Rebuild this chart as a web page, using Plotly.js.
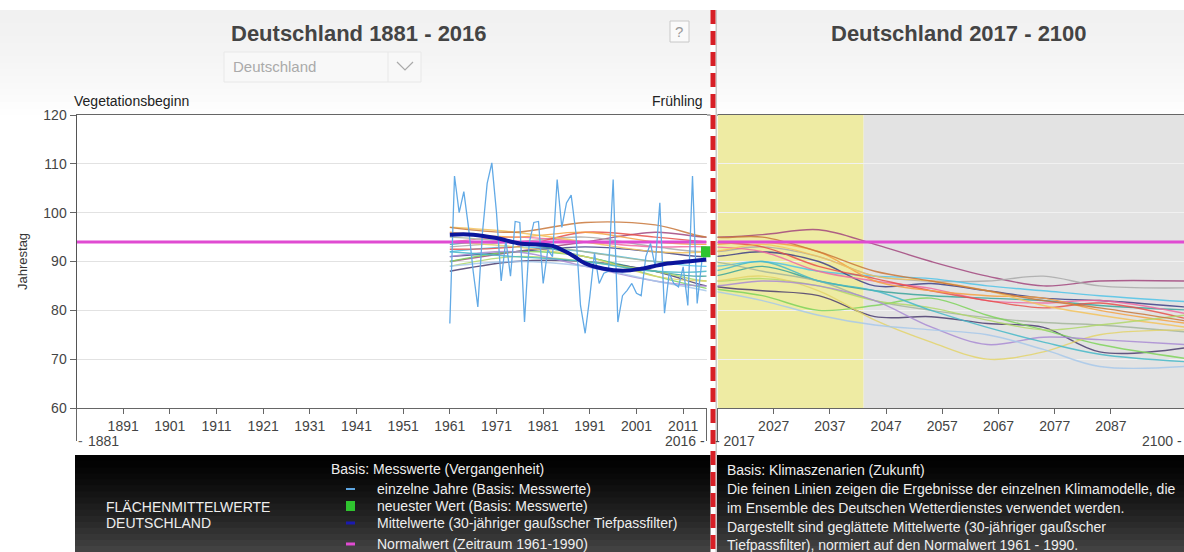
<!DOCTYPE html>
<html>
<head>
<meta charset="utf-8">
<script src="https://cdn.plot.ly/plotly-3.0.1.min.js"></script>
<style>
html,body{margin:0;padding:0;background:#fff;}
#chart{width:1184px;height:552px;}
</style>
</head>
<body>
<div id="chart"></div>
<script>
// ---------------- DATA ----------------
const obsYears = [1961,1962,1963,1964,1965,1966,1967,1968,1969,1970,1971,1972,1973,1974,1975,1976,1977,1978,1979,1980,
  1981,1982,1983,1984,1985,1986,1987,1988,1989,1990,1991,1992,1993,1994,1995,1996,1997,1998,1999,2000,
  2001,2002,2003,2004,2005,2006,2007,2008,2009,2010,2011,2012,2013,2014,2015,2016];
const obsValues = [77.3,107.5,100,104.3,97,88,80.7,96,106,110.2,100,86,94.4,87,98.2,98,77.6,93.7,98,98.2,
  85.5,92.4,91,106.8,97,102,103.6,96,81,75.3,82.8,91.7,85.5,87.6,88,106.8,77.6,83,84.1,85.5,
  83.5,83,91,93.7,89,102,79.4,87.6,85.5,84.8,88.9,81,107.5,81.4,90,92];

const meanYears  = [1961,1966,1971,1976,1980,1983,1987,1990,1994,1998,2002,2007,2012,2016];
const meanValues = [95.5,95.5,94.8,93.7,93.5,93.2,91.4,89.6,88.5,88.1,88.5,89.5,90.0,90.4];

const newestYear = [2016];
const newestValue = [92];

const normalValue = 94;

const modelYears = [1961,1975,1990,2005,2016,2025,2035,2045,2055,2065,2075,2085,2100];
const modelColors = ['#a2467e','#a9a9a9','#4fc3e8','#3d3f86','#3aa39a','#f06aa0','#e8504a','#f5a142',
  '#f3c35c','#a3b59b','#4a3c6e','#7ed35a','#b0d86a','#e3d46a','#a98bd4','#45b8c8','#a7c8ea','#c9773a'];
const modelValues = [
  [90,92,94,96,95,95.5,96.5,93.5,90,87,85,86,86],
  [93,94,95,93,92,93,91,87,86,86,87,85,84.6],
  [92,93,92,90,89,90,88,87,86.5,85,84,83,81.8],
  [91,92,93,92,91,92,90,85,85.5,84,82.5,82,80.7],
  [93.5,94,91,88,87,89,86,84,83,82.5,82,81,80.1],
  [94,95,94,93,93,92,88,86,84.5,82,81.5,82,79.4],
  [92.5,93,96,95,94,93,89,86.5,84,82,80.5,81.5,78.4],
  [96,95,96,94,93.5,94,92,86,84,83,82.5,80,77.4],
  [97,96,94,92,92,93.5,91,87,86,84,81,79,76.6],
  [95,94,92,90,90,88,86,82,80,78.5,77.5,77,75.6],
  [88,90,90,88,85,84,83,78.7,78.7,77.3,76.5,71.5,72.3],
  [90,92,91,87,84.5,83,80,81,82.5,79,76,73,70.2],
  [89,91,90,88,86,86.5,85,82,80.5,78,76,77,79],
  [94,93,91,87,86,87,84,78,73.5,70,71.5,75,76],
  [91,92,89,86,85,86,85,82,76.6,73,74.5,74,73],
  [92,91,90,88,88,90,86,84,80,76.5,73.5,71,69.5],
  [89,90,89,86,84,82,79,77,76,75,72,68.5,68.5],
  [97,96,98,97.5,95,95,92,88,86,84,82,80.5,77.9]
];

const leftTicks  = [1891,1901,1911,1921,1931,1941,1951,1961,1971,1981,1991,2001,2011];
const rightTicks = [2027,2037,2047,2057,2067,2077,2087];
const leftRange  = [1881,2016];
const rightRange = [2017,2100];
const nearFuture = [2017,2043];   // yellow band
const farFuture  = [2043,2100];   // gray band

// ---------------- HELPERS ----------------
const W = 1184, H = 552;
const PX = x => x / W;
const PY = y => 1 - y / H;
const plotTop = 115, plotBot = 408;
const font = '"Liberation Sans",Arial,sans-serif';

const traces = [];
modelValues.forEach((vals, i) => {
  ['x','x2'].forEach(xa => {
    traces.push({
      x: modelYears, y: vals, xaxis: xa, yaxis: xa === 'x' ? 'y' : 'y2',
      type: 'scatter', mode: 'lines',
      line: {color: modelColors[i], width: 1.4, shape: 'spline', smoothing: 1},
      opacity: 0.85, hoverinfo: 'skip', showlegend: false
    });
  });
});
traces.push({x: leftRange, y: [normalValue, normalValue], xaxis: 'x', yaxis: 'y', mode: 'lines',
  line: {color: '#e04bd2', width: 3}, showlegend: false});
traces.push({x: rightRange, y: [normalValue, normalValue], xaxis: 'x2', yaxis: 'y2', mode: 'lines',
  line: {color: '#e04bd2', width: 3}, showlegend: false});
traces.push({x: obsYears, y: obsValues, xaxis: 'x', yaxis: 'y', mode: 'lines',
  line: {color: '#62aae6', width: 1.3}, showlegend: false});
traces.push({x: meanYears, y: meanValues, xaxis: 'x', yaxis: 'y', mode: 'lines',
  line: {color: '#0b159c', width: 4, shape: 'spline'}, showlegend: false});
traces.push({x: newestYear, y: newestValue, xaxis: 'x', yaxis: 'y', mode: 'markers', cliponaxis: false,
  marker: {symbol: 'square', size: 11, color: '#2fc42f'}, showlegend: false});

const shapes = [];
// header background: smooth gradient via overlapping rects
const hTop = 10, hBot = 115, hN = 16;
for (let i = 0; i < hN; i++) {
  const y0 = hTop + (hBot - hTop) * i / hN;
  const c = Math.round(241 + 13 * Math.pow(i / (hN - 1), 1.5));
  shapes.push({type:'rect', xref:'paper', yref:'paper', x0:0, x1:1, y0:PY(hBot), y1:PY(y0),
    fillcolor:`rgb(${c},${c},${c})`, line:{width:0}, layer:'below'});
}
// future period bands
shapes.push({type:'rect', xref:'x2', yref:'y2 domain', x0:nearFuture[0], x1:nearFuture[1], y0:0, y1:1,
  fillcolor:'#eeeba3', line:{width:0}, layer:'below'});
shapes.push({type:'rect', xref:'x2', yref:'y2 domain', x0:farFuture[0], x1:farFuture[1], y0:0, y1:1,
  fillcolor:'#e3e3e3', line:{width:0}, layer:'below'});
// bottom black panel (gradient, overlapping rects so no seams)
const panelTop = 455, nStr = 16;
for (let i = 0; i < nStr; i++) {
  const y0 = panelTop + (H - panelTop) * i / nStr;
  const c = Math.round(2 + 64 * Math.pow(i / (nStr - 1), 1.4));
  shapes.push({type:'rect', xref:'paper', yref:'paper', x0:PX(75), x1:1, y0:0, y1:PY(y0),
    fillcolor:`rgb(${c},${c},${c})`, line:{width:0}, layer:'above'});
}
// top border across the gap
shapes.push({type:'line', xref:'paper', yref:'paper', x0:PX(707), x1:PX(718), y0:PY(plotTop), y1:PY(plotTop),
  line:{color:'#666', width:1}});
// bottom L-ticks for first/last years
[76.5, 706.5, 717.5].forEach(x => {
  shapes.push({type:'line', xref:'paper', yref:'paper', x0:PX(x), x1:PX(x), y0:PY(plotBot), y1:PY(441),
    line:{color:'#666', width:1}});
});
// divider
shapes.push({type:'line', xref:'paper', yref:'paper', x0:PX(716), x1:PX(716), y0:PY(10), y1:0,
  line:{color:'#c9c9c9', width:2}, layer:'above'});
shapes.push({type:'line', xref:'paper', yref:'paper', x0:PX(713), x1:PX(713), y0:PY(10), y1:0,
  line:{color:'#ffffff', width:5}, layer:'above'});
shapes.push({type:'line', xref:'paper', yref:'paper', x0:PX(713), x1:PX(713), y0:PY(10), y1:0,
  line:{color:'#d71f26', width:5, dash:'14px,7px'}, layer:'above'});
// "?" box
shapes.push({type:'rect', xref:'paper', yref:'paper', x0:PX(670), x1:PX(689), y0:PY(42), y1:PY(21),
  fillcolor:'#fafafa', line:{color:'#c8c8c8', width:1}});
// dropdown
shapes.push({type:'rect', xref:'paper', yref:'paper', x0:PX(224), x1:PX(421), y0:PY(82), y1:PY(52),
  fillcolor:'#f8f8f8', line:{color:'#e8e8e8', width:1}});
shapes.push({type:'line', xref:'paper', yref:'paper', x0:PX(388), x1:PX(388), y0:PY(82), y1:PY(52),
  line:{color:'#e8e8e8', width:1}});
shapes.push({type:'path', xref:'paper', yref:'paper',
  path:`M ${PX(397)} ${PY(62)} L ${PX(405)} ${PY(70)} L ${PX(413)} ${PY(62)}`,
  line:{color:'#aaaaaa', width:1.2}});
// legend symbols
shapes.push({type:'line', xref:'paper', yref:'paper', x0:PX(346), x1:PX(355), y0:PY(489), y1:PY(489),
  line:{color:'#5ea6e2', width:2}, layer:'above'});
shapes.push({type:'rect', xref:'paper', yref:'paper', x0:PX(346), x1:PX(355), y0:PY(511), y1:PY(501),
  fillcolor:'#2fc42f', line:{width:0}, layer:'above'});
shapes.push({type:'line', xref:'paper', yref:'paper', x0:PX(346), x1:PX(355), y0:PY(523), y1:PY(523),
  line:{color:'#1a1ab0', width:3}, layer:'above'});
shapes.push({type:'line', xref:'paper', yref:'paper', x0:PX(346), x1:PX(355), y0:PY(544), y1:PY(544),
  line:{color:'#e04bd2', width:3}, layer:'above'});

const ann = [];
function txt(text, x, y, opts) {
  ann.push(Object.assign({text, xref:'paper', yref:'paper', x:PX(x), y:PY(y), showarrow:false,
    xanchor:'left', yanchor:'middle', font:{family:font, size:14, color:'#333'}}, opts || {}));
}
txt('<b>Deutschland 1881 - 2016</b>', 359, 33, {xanchor:'center', font:{family:font, size:22, color:'#444'}});
txt('<b>Deutschland 2017 - 2100</b>', 959, 33, {xanchor:'center', font:{family:font, size:22, color:'#444'}});
txt('?', 679.5, 31.5, {xanchor:'center', font:{family:font, size:15, color:'#999'}});
txt('Deutschland', 231, 67, {font:{family:font, size:15, color:'#aaa'}});
txt('Vegetationsbeginn', 72, 101, {font:{family:font, size:14, color:'#222'}});
txt('Frühling', 705, 101, {xanchor:'right', font:{family:font, size:14, color:'#222'}});
txt('Jahrestag', 22, 262, {xanchor:'center', textangle:-90, font:{family:font, size:13, color:'#333'}});
txt('1881', 86, 441, {font:{family:font, size:14, color:'#444'}});
txt('- ', 76, 441, {font:{family:font, size:14, color:'#666'}});
txt('2016 -', 707, 441, {xanchor:'right', font:{family:font, size:14, color:'#444'}});
txt('- 2017', 713, 441, {font:{family:font, size:14, color:'#444'}});
txt('2100 -', 1184, 441, {xanchor:'right', font:{family:font, size:14, color:'#444'}});
// legend panel texts
const wf = {family:font, size:14, color:'#eeeeee'};
txt('Basis: Messwerte (Vergangenheit)', 329, 469, {font:wf});
txt('einzelne Jahre (Basis: Messwerte)', 375, 489, {font:wf});
txt('neuester Wert (Basis: Messwerte)', 375, 506, {font:wf});
txt('Mittelwerte (30-jähriger gaußscher Tiefpassfilter)', 375, 523, {font:wf});
txt('Normalwert (Zeitraum 1961-1990)', 375, 544, {font:wf});
txt('FLÄCHENMITTELWERTE', 104, 507, {font:wf});
txt('DEUTSCHLAND', 104, 523, {font:wf});
txt('Basis: Klimaszenarien (Zukunft)', 725, 470, {font:wf});
txt('Die feinen Linien zeigen die Ergebnisse der einzelnen Klimamodelle, die', 725, 489, {font:wf});
txt('im Ensemble des Deutschen Wetterdienstes verwendet werden.', 725, 508, {font:wf});
txt('Dargestellt sind geglättete Mittelwerte (30-jähriger gaußscher', 725, 527, {font:wf});
txt('Tiefpassfilter), normiert auf den Normalwert 1961 - 1990.', 725, 545, {font:wf});

const yDom = [PY(plotBot), PY(plotTop)];
const tickFont = {family:font, size:14, color:'#444'};
const layout = {
  width: W, height: H, margin:{l:0, r:0, t:0, b:0},
  paper_bgcolor:'#ffffff', plot_bgcolor:'rgba(0,0,0,0)',
  showlegend:false,
  xaxis:{domain:[PX(76.5), PX(706.5)], range:leftRange, tickvals:leftTicks, ticks:'outside', ticklen:5,
    tickcolor:'#666', showline:true, linecolor:'#666', mirror:true, showgrid:false, zeroline:false,
    tickfont:tickFont, anchor:'y', fixedrange:true},
  xaxis2:{domain:[PX(717.5), 1], range:rightRange, tickvals:rightTicks, ticks:'outside', ticklen:5,
    tickcolor:'#666', showline:true, linecolor:'#666', mirror:true, showgrid:false, zeroline:false,
    tickfont:tickFont, anchor:'y2', fixedrange:true},
  yaxis:{domain:yDom, range:[60,120], dtick:10, ticks:'outside', ticklen:6, tickcolor:'#666',
    showline:true, linecolor:'#555', gridcolor:'#e2e2e2', zeroline:false, tickfont:tickFont, anchor:'x'},
  yaxis2:{domain:yDom, range:[60,120], dtick:10, showticklabels:false, ticks:'', showline:false,
    gridcolor:'#f1f1f1', zeroline:false, anchor:'x2'},
  shapes: shapes, annotations: ann
};
Plotly.newPlot('chart', traces, layout, {staticPlot:true, displayModeBar:false});
</script>
</body>
</html>
